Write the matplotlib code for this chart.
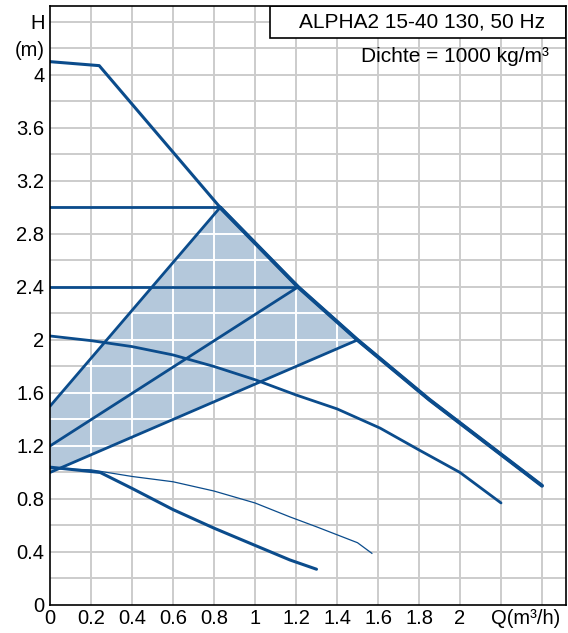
import numpy as np
import matplotlib.pyplot as plt
from matplotlib.patches import Polygon, Rectangle

# ==================== data ====================
# max speed curve
max_q = [0.0, 0.24, 0.83, 1.21, 1.5, 1.85, 2.4]
max_h = [4.1, 4.07, 3.0, 2.4, 2.0, 1.55, 0.9]

# proportional pressure lines (start at Q=0, end on the max curve)
pp_q = [[0.0, 0.83], [0.0, 1.21], [0.0, 1.5]]
pp_h = [[1.5, 3.0], [1.2, 2.4], [1.0, 2.0]]

# constant pressure lines
cp_h = [3.0, 2.4]
cp_q_end = [0.83, 1.21]

# fixed speed curves
mid_q = [0.0, 0.2, 0.4, 0.6, 0.8, 1.0, 1.2, 1.4, 1.61, 1.8, 2.0, 2.2]
mid_h = [2.03, 1.995, 1.95, 1.887, 1.80, 1.70, 1.585, 1.48, 1.335, 1.17, 1.0, 0.77]

thin_q = [0.0, 0.2, 0.4, 0.6, 0.8, 1.0, 1.17, 1.3, 1.5, 1.57]
thin_h = [1.03, 1.02, 0.97, 0.93, 0.86, 0.77, 0.665, 0.59, 0.47, 0.39]

low_q = [0.0, 0.245, 0.4, 0.6, 0.8, 1.0, 1.17, 1.3]
low_h = [1.04, 1.0, 0.88, 0.72, 0.58, 0.45, 0.34, 0.27]

x_ticks = [0, 0.2, 0.4, 0.6, 0.8, 1, 1.2, 1.4, 1.6, 1.8, 2]
y_ticks = [0, 0.4, 0.8, 1.2, 1.6, 2, 2.4, 2.8, 3.2, 3.6, 4]

blue = "#0B4C8C"
shade = "#B4C8DB"

plt.rcParams['font.family'] = ['Liberation Sans', 'DejaVu Sans']

fig = plt.figure(figsize=(5.68, 6.33), dpi=100)
ax = fig.add_axes([50 / 568, 28 / 633, 516 / 568, 599 / 633])
ax.set_xlim(0, 2.517)
ax.set_ylim(0, 4.52)

# grid (gray)
grid_x = np.arange(0.2, 2.51, 0.2)
grid_y = np.arange(0.2, 4.51, 0.2)
for gx in grid_x:
    ax.axvline(gx, color="#CCCCCC", lw=1.4, zorder=0)
for gy in grid_y:
    ax.axhline(gy, color="#CCCCCC", lw=1.4, zorder=0)

# shaded control area
seg = [i for i, q in enumerate(max_q) if pp_q[0][1] <= q <= pp_q[2][1]]
poly_pts = [(pp_q[2][0], pp_h[2][0])] + [(pp_q[2][1], pp_h[2][1])]
poly_pts += [(max_q[i], max_h[i]) for i in reversed(seg)]
poly_pts += [(pp_q[0][0], pp_h[0][0])]
area = Polygon(poly_pts, closed=True, facecolor=shade, edgecolor="none", zorder=1)
ax.add_patch(area)

# white grid inside the shaded area
for gx in grid_x:
    ln = ax.axvline(gx, color="white", lw=1.4, zorder=1.5)
    ln.set_clip_path(area)
for gy in grid_y:
    ln = ax.axhline(gy, color="white", lw=1.4, zorder=1.5)
    ln.set_clip_path(area)

# curves
ax.plot(max_q, max_h, color=blue, lw=2.2, zorder=3, solid_capstyle="round",
        solid_joinstyle="round")
# lower part of max curve is drawn heavier (overlapping lines)
ax.plot(max_q[2:], max_h[2:], color=blue, lw=2.8, zorder=3, solid_capstyle="round",
        solid_joinstyle="round")
for q, h in zip(pp_q, pp_h):
    ax.plot(q, h, color=blue, lw=2.0, zorder=3, solid_capstyle="round")
for h, qe in zip(cp_h, cp_q_end):
    ax.plot([0, qe], [h, h], color=blue, lw=2.0, zorder=3)
ax.plot(mid_q, mid_h, color=blue, lw=2.0, zorder=3, solid_capstyle="round",
        solid_joinstyle="round")
ax.plot(thin_q, thin_h, color=blue, lw=0.9, zorder=3, solid_joinstyle="round")
ax.plot(low_q, low_h, color=blue, lw=2.2, zorder=3, solid_capstyle="round",
        solid_joinstyle="round")

# ticks and axis labels
ax.set_xticks(x_ticks + [2.32])
ax.set_xticklabels(["0", "0.2", "0.4", "0.6", "0.8", "1", "1.2", "1.4", "1.6",
                    "1.8", "2", "Q(m³/h)"])
ax.set_yticks(y_ticks + [4.2, 4.4])
ax.set_yticklabels(["0", "0.4", "0.8", "1.2", "1.6", "2", "2.4", "2.8", "3.2",
                    "3.6", "4", "(m)", "H"])
ax.tick_params(length=0, labelsize=14.5, pad=4)
ax.tick_params(axis="x", pad=3)
for sp in ax.spines.values():
    sp.set_color("black")
    sp.set_linewidth(1.2)
    sp.set_zorder(5)

# title box
ax.add_patch(Rectangle((0.426, 0.9466), 0.574, 0.0534, transform=ax.transAxes,
                       facecolor="white", edgecolor="black", lw=1.2, zorder=4))
ax.text(0.721, 0.9733, "ALPHA2 15-40 130, 50 Hz", transform=ax.transAxes,
        ha="center", va="center", fontsize=15, zorder=5)
ax.text(0.967, 0.915, "Dichte = 1000 kg/m³", transform=ax.transAxes,
        ha="right", va="center", fontsize=15, zorder=5)

plt.savefig("out.png", dpi=100)
